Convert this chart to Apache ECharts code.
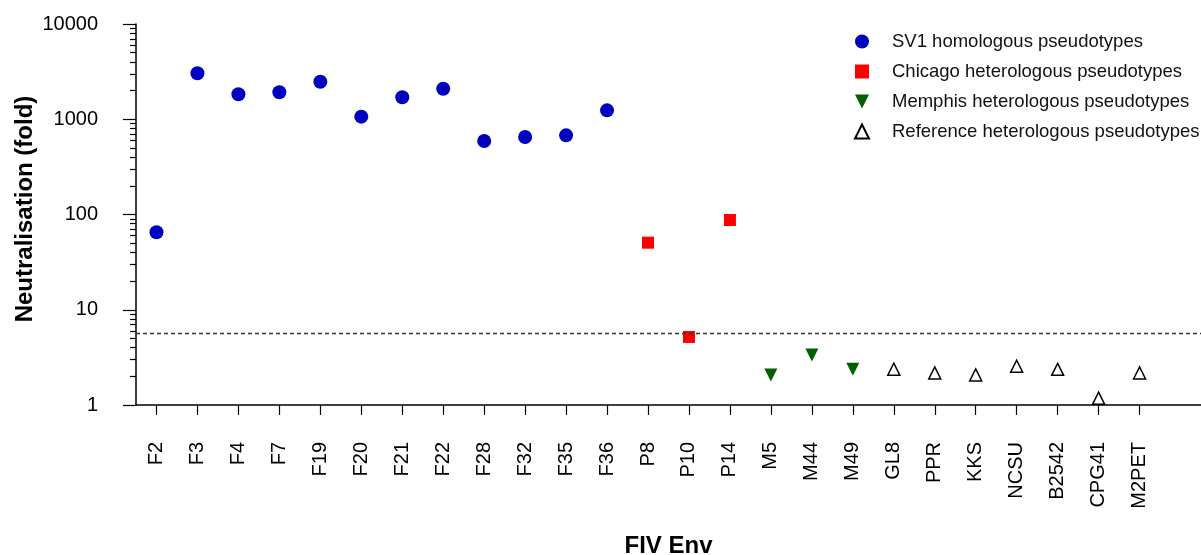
<!DOCTYPE html>
<html>
<head>
<meta charset="utf-8">
<title>Neutralisation</title>
<script src="https://cdn.jsdelivr.net/npm/echarts@6/dist/echarts.min.js"></script>
<style>
  html, body { margin: 0; padding: 0; background: #fff; }
  #chartmain { width: 1201px; height: 555px; }
</style>
</head>
<body>
<div id="chartmain"></div>
<script>
// 数据
var envNames = ['F2','F3','F4','F7','F19','F20','F21','F22','F28','F32','F35','F36',
                'P8','P10','P14','M5','M44','M49',
                'GL8','PPR','KKS','NCSU','B2542','CPG41','M2PET'];

var sv1Envs = ['F2','F3','F4','F7','F19','F20','F21','F22','F28','F32','F35','F36'];
var sv1Values = [65, 3040, 1830, 1920, 2480, 1065, 1700, 2090, 591, 651, 678, 1240];

var chicagoEnvs = ['P8','P10','P14'];
var chicagoValues = [50.6, 5.18, 87.6];

var memphisEnvs = ['M5','M44','M49'];
var memphisValues = [2.07, 3.35, 2.38];

var referenceEnvs = ['GL8','PPR','KKS','NCSU','B2542','CPG41','M2PET'];
var referenceValues = [2.38, 2.17, 2.07, 2.55, 2.37, 1.18, 2.17];

var cutoff = 5.6;

var yMajorTicks = [1, 10, 100, 1000, 10000];
var yMinorTicks = [];
for (var d = 1; d < 10000; d *= 10) {
    for (var k = 2; k <= 9; k++) yMinorTicks.push(d * k);
}

function pairs(envs, values) {
    return envs.map(function (e, i) { return [envNames.indexOf(e), values[i]]; });
}

var font = "'Liberation Sans', Arial, sans-serif";
var envIdx = envNames.map(function (e, i) { return i; });
var myChart = echarts.init(document.getElementById('chartmain'));

var option = {
    backgroundColor: '#fff',
    animation: false,
    textStyle: { fontFamily: font },
    grid: { left: 136, right: 0, top: 24, bottom: 150, containLabel: false, outerBoundsMode: 'none' },
    legend: {
        orient: 'vertical',
        left: 849,
        top: 27,
        itemWidth: 14,
        itemHeight: 14,
        itemGap: 11,
        textStyle: { fontFamily: font, fontSize: 18.5, color: '#111', padding: [0, 0, 0, 18] },
        data: [
            { name: 'SV1 homologous pseudotypes' },
            { name: 'Chicago heterologous pseudotypes' },
            { name: 'Memphis heterologous pseudotypes', icon: 'path://M0,0L10,0L5,10Z' },
            { name: 'Reference heterologous pseudotypes' }
        ]
    },
    xAxis: {
        type: 'value',
        min: -0.5,
        max: 25.5,
        name: 'FIV Env',
        nameLocation: 'middle',
        nameGap: 129,
        nameTextStyle: { fontFamily: font, fontSize: 24, fontWeight: 'bold', color: '#000' },
        axisLine: { onZero: false, lineStyle: { color: '#000', width: 1.5 } },
        axisTick: {
            length: 10,
            lineStyle: { color: '#000', width: 1.2 },
            customValues: envIdx
        },
        axisLabel: {
            rotate: 90,
            margin: 37,
            fontSize: 20,
            color: '#000',
            fontFamily: font,
            customValues: envIdx,
            formatter: function (v) { return envNames[Math.round(v)] || ''; }
        },
        splitLine: { show: false }
    },
    yAxis: [{
        type: 'log',
        logBase: 10,
        min: 1,
        max: 10000,
        position: 'left',
        name: 'Neutralisation (fold)',
        nameLocation: 'middle',
        nameGap: 99,
        nameMoveOverlap: false,
        nameTextStyle: { fontFamily: font, fontSize: 24, fontWeight: 'bold', color: '#000',
                         padding: [0, 0, 0, 11] },
        axisLine: { show: true, onZero: false, lineStyle: { color: '#000', width: 1.5 } },
        axisTick: { show: true, length: 13, lineStyle: { color: '#000', width: 1.2 },
                    customValues: yMajorTicks },
        axisLabel: {
            margin: 38,
            fontSize: 20,
            color: '#000',
            fontFamily: font,
            customValues: yMajorTicks,
            formatter: function (v) { return String(Math.round(v)); }
        },
        splitLine: { show: false }
    }, {
        type: 'log',
        logBase: 10,
        min: 1,
        max: 10000,
        position: 'left',
        axisLine: { show: false, onZero: false },
        axisTick: { show: true, length: 6, lineStyle: { color: '#000', width: 1.2 },
                    customValues: yMinorTicks },
        axisLabel: { show: false },
        splitLine: { show: false }
    }],
    series: [{
        name: 'SV1 homologous pseudotypes',
        type: 'scatter',
        symbol: 'circle',
        symbolSize: 14,
        itemStyle: { color: '#0000c0', opacity: 1 },
        data: pairs(sv1Envs, sv1Values),
        markLine: {
            silent: true,
            symbol: 'none',
            label: { show: false },
            lineStyle: { color: '#333', type: [4, 3], width: 1.3 },
            data: [{ yAxis: cutoff }]
        }
    }, {
        name: 'Chicago heterologous pseudotypes',
        type: 'scatter',
        symbol: 'rect',
        symbolSize: 12,
        itemStyle: { color: '#ff0000', opacity: 1 },
        data: pairs(chicagoEnvs, chicagoValues)
    }, {
        name: 'Memphis heterologous pseudotypes',
        type: 'scatter',
        symbol: 'triangle',
        symbolRotate: 180,
        symbolSize: [13, 13],
        itemStyle: { color: '#006000', opacity: 1 },
        data: pairs(memphisEnvs, memphisValues)
    }, {
        name: 'Reference heterologous pseudotypes',
        type: 'scatter',
        symbol: 'triangle',
        symbolSize: [12, 12],
        itemStyle: { color: '#fff', borderColor: '#000', borderWidth: 1.5, opacity: 1 },
        data: pairs(referenceEnvs, referenceValues)
    }]
};

myChart.setOption(option);
</script>
</body>
</html>
